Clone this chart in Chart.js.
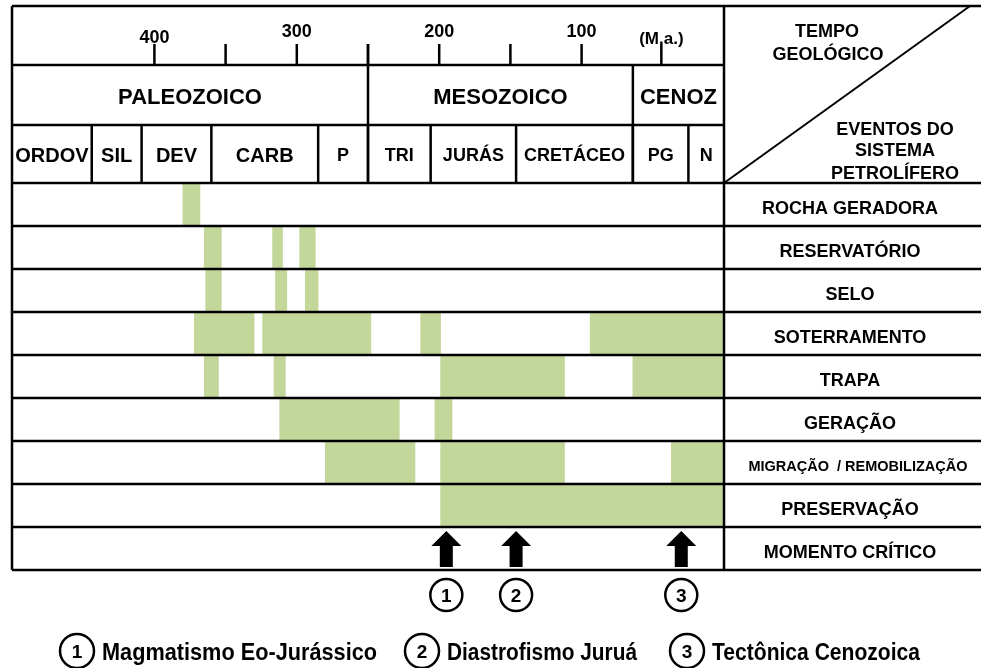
<!DOCTYPE html>
<html>
<head>
<meta charset="utf-8">
<script src="https://cdn.jsdelivr.net/npm/chart.js@4.4.0/dist/chart.umd.min.js"></script>
<style>
  body { margin: 0; background: #fff; }
  #wrap { width: 981px; height: 668px; position: relative; }
</style>
</head>
<body>
<div id="wrap"><canvas id="eventsChart"></canvas></div>
<script>
// eventos do sistema petrolifero, idades em M.a.
var events = ['ROCHA GERADORA', 'RESERVATÓRIO', 'SELO', 'SOTERRAMENTO', 'TRAPA', 'GERAÇÃO',
              'MIGRAÇÃO  / REMOBILIZAÇÃO', 'PRESERVAÇÃO', 'MOMENTO CRÍTICO'];

var rochaGeradora = [[380, 368]];
var reservatorio = [[365, 353], [317, 310], [298, 287]];
var selo = [[364, 353], [315, 307], [294, 285]];
var soterramento = [[372, 330], [324, 248], [213, 199], [94, 0]];
var trapa = [[365, 355], [316, 308], [199, 112], [64, 0]];
var geracao = [[312, 228], [203, 191]];
var migracao = [[280, 217], [199, 112], [37, 0]];
var preservacao = [[199, 0]];
var eventSpans = [rochaGeradora, reservatorio, selo, soterramento, trapa, geracao, migracao, preservacao, []];

var tickValues = [400, 350, 300, 250, 200, 150, 100, 44];
var tickLabels = ['400', '', '300', '', '200', '', '100', '(M.a.)'];

var eraNames = ['PALEOZOICO', 'MESOZOICO', 'CENOZ'];
var eraLimits = [500, 250, 64, 0];
var periodNames = ['ORDOV', 'SIL', 'DEV', 'CARB', 'P', 'TRI', 'JURÁS', 'CRETÁCEO', 'PG', 'N'];
var periodLimits = [500, 444, 409, 360, 285, 250, 206, 146, 64, 25, 0];

var criticalMoments = [195, 146, 30];
var criticalNumbers = ['1', '2', '3'];
var legendLabels = ['Magmatismo Eo-Jurássico', 'Diastrofismo Juruá', 'Tectônica Cenozoica'];

var FONT = '"Liberation Sans", Arial, sans-serif';
var GREEN = '#c4d79b';

// texto centrado pela altura das maiusculas
function txt(c, s, x, yc, size, align, width) {
  c.font = 'bold ' + size + 'px ' + FONT;
  c.textAlign = align || 'center';
  c.textBaseline = 'alphabetic';
  var y = yc + size * 0.358;
  if (width) {
    var w = c.measureText(s).width;
    c.save();
    c.translate(x, y);
    c.scale(width / w, 1);
    c.fillText(s, 0, 0);
    c.restore();
  } else {
    c.fillText(s, x, y);
  }
}

function line(c, x1, y1, x2, y2) {
  c.beginPath();
  c.moveTo(x1, y1);
  c.lineTo(x2, y2);
  c.stroke();
}

function circled(c, n, x, y, r) {
  c.lineWidth = 2.5;
  c.beginPath();
  c.arc(x, y, r, 0, Math.PI * 2);
  c.stroke();
  txt(c, n, x, y, 19);
}

var tablePlugin = {
  id: 'tabela',
  afterDatasetsDraw: function(chart) {
    var c = chart.ctx;
    var xs = chart.scales.x;
    var ys = chart.scales.y;
    var a = chart.chartArea;
    var W = chart.width;
    var rowH = (a.bottom - a.top) / events.length;
    var top = 6, tickTop = 44, hTick = 65, hEra = 125;

    c.save();
    c.strokeStyle = '#000';
    c.fillStyle = '#000';

    // linhas horizontais
    c.lineWidth = 2.5;
    line(c, a.left, top, W, top);
    line(c, a.left, hTick, a.right, hTick);
    line(c, a.left, hEra, a.right, hEra);
    for (var i = 0; i <= events.length; i++) {
      var yb = ys.getPixelForValue(i) - rowH / 2;
      line(c, a.left, yb, W, yb);
    }

    // bordas verticais
    line(c, a.left, top, a.left, a.bottom);
    line(c, a.right, top, a.right, a.bottom);

    // escala de tempo
    tickValues.forEach(function(v, i) {
      var x = xs.getPixelForValue(v);
      line(c, x, tickTop, x, hTick);
      if (tickLabels[i]) {
        var yl = v === 400 ? 36.5 : (v < 60 ? 38 : 31);
        txt(c, tickLabels[i], x, yl, v < 60 ? 17 : 18);
      }
    });

    // eras
    eraNames.forEach(function(n, i) {
      var x0 = xs.getPixelForValue(eraLimits[i]);
      var x1 = xs.getPixelForValue(eraLimits[i + 1]);
      if (i > 0) line(c, x0, eraLimits[i] === 250 ? tickTop : hTick, x0, a.top);
      txt(c, n, (x0 + x1) / 2, 96, 22);
    });

    // periodos
    periodNames.forEach(function(n, i) {
      var x0 = xs.getPixelForValue(periodLimits[i]);
      var x1 = xs.getPixelForValue(periodLimits[i + 1]);
      if (i > 0) line(c, x0, hEra, x0, a.top);
      txt(c, n, (x0 + x1) / 2, 154.5, i < 4 ? 20 : 18);
    });

    // cabecalho da direita
    c.lineWidth = 2;
    line(c, a.right, a.top, 970, top);
    txt(c, 'TEMPO', 827, 31, 18);
    txt(c, 'GEOLÓGICO', 828, 53.5, 18);
    txt(c, 'EVENTOS DO', 895, 128.5, 18);
    txt(c, 'SISTEMA', 895, 150, 18);
    txt(c, 'PETROLÍFERO', 895, 172.5, 18);

    // nomes dos eventos
    events.forEach(function(n, i) {
      var yc = ys.getPixelForValue(i) + 3;
      if (n.length > 20) txt(c, n, 858, yc, 14.5);
      else txt(c, n, 850, yc, 18);
    });

    // momento critico: setas e numeros
    var yRow = ys.getPixelForValue(events.length - 1) - rowH / 2;
    criticalMoments.forEach(function(v, i) {
      var x = xs.getPixelForValue(v);
      c.beginPath();
      c.moveTo(x, yRow + 4);
      c.lineTo(x + 15, yRow + 19);
      c.lineTo(x + 6.5, yRow + 19);
      c.lineTo(x + 6.5, yRow + 40);
      c.lineTo(x - 6.5, yRow + 40);
      c.lineTo(x - 6.5, yRow + 19);
      c.lineTo(x - 15, yRow + 19);
      c.closePath();
      c.fill();
      circled(c, criticalNumbers[i], x, 595, 16);
    });

    // legenda
    var legX = [77, 422, 687];
    var legW = [275, 190, 208];
    legendLabels.forEach(function(s, i) {
      circled(c, criticalNumbers[i], legX[i], 651, 17);
      txt(c, s, legX[i] + 25, 651.5, 23, 'left', legW[i]);
    });

    c.restore();
  }
};

var barData = [];
eventSpans.forEach(function(spans, i) {
  spans.forEach(function(s) {
    barData.push({ x: s, y: events[i] });
  });
});

var ctx = document.getElementById('eventsChart').getContext('2d');
var eventsChart = new Chart(ctx, {
  type: 'bar',
  data: {
    labels: events,
    datasets: [{
      data: barData,
      backgroundColor: GREEN,
      borderWidth: 0,
      barPercentage: 1,
      categoryPercentage: 1
    }]
  },
  options: {
    indexAxis: 'y',
    responsive: true,
    maintainAspectRatio: false,
    animation: false,
    layout: { padding: { left: 12, right: 257, top: 183, bottom: 98 } },
    plugins: {
      legend: { display: false },
      tooltip: { enabled: false }
    },
    scales: {
      x: { type: 'linear', min: 0, max: 500, reverse: true, display: false },
      y: { type: 'category', display: false }
    }
  },
  plugins: [tablePlugin]
});
</script>
</body>
</html>
